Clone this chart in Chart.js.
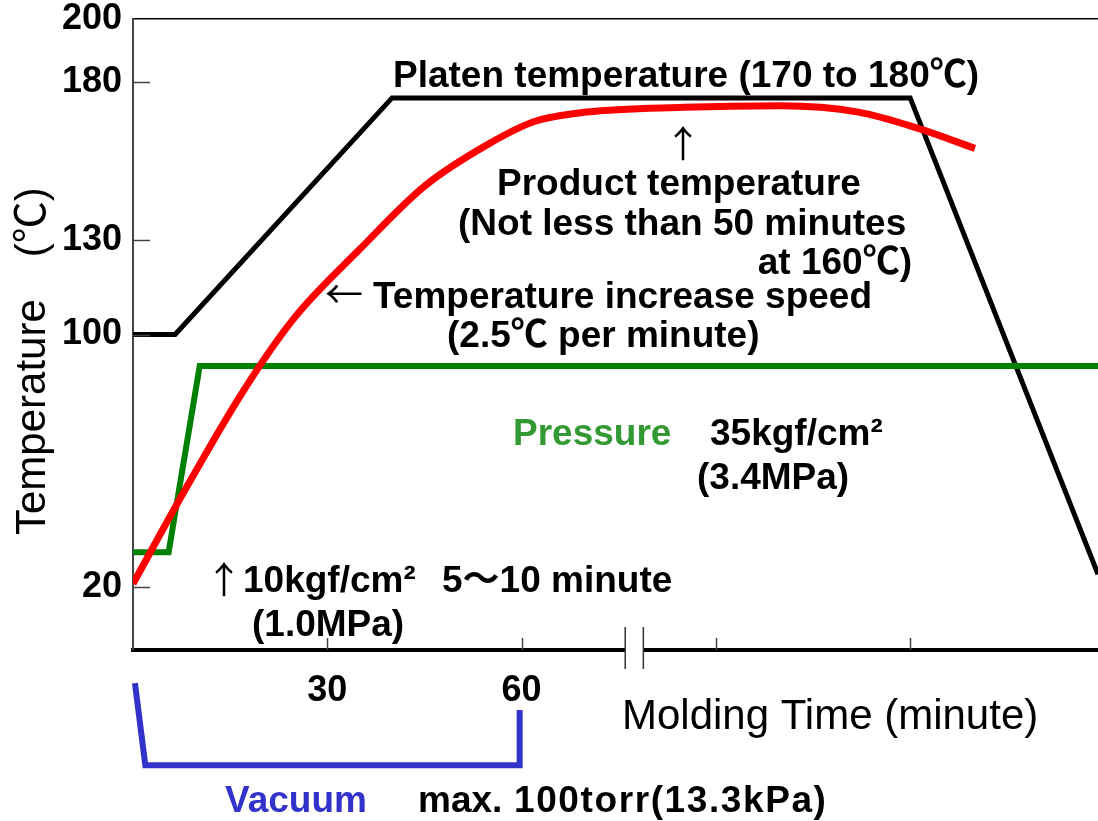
<!DOCTYPE html>
<html><head><meta charset="utf-8">
<script src="https://cdn.jsdelivr.net/npm/chart.js@4.4.1/dist/chart.umd.min.js"></script>
<style>html,body{margin:0;padding:0;background:#fff;}#wrap{width:1098px;height:821px;position:relative;}canvas{display:block;}</style>
</head><body><div id="wrap"><canvas id="c" width="1098" height="821"></canvas></div>
<script>
// ---- data ----
const yTicks = [20, 100, 130, 180, 200];
const xTicks = [30, 60, 90, 120];
const xTickLabels = ['30', '60', '', ''];
const platenTime = [0, 6.5, 40, 120, 149];
const platenTemp = [100, 100, 175, 175, 24];
const productTime = [0, 7, 17, 25, 35, 45, 55, 62, 70, 85, 100, 112, 121, 130];
const productTemp = [21, 47, 82, 105.5, 127, 147, 160.5, 167.5, 170.5, 172, 172.5, 170.5, 165.5, 159];
const pressureTime = [0, 5.5, 10.3, 149];
const pressureLevel = [31, 31, 90, 90];
const vacuumTime = [0.3, 1.9, 59.7, 59.7];
const vacuumLevel = [-10.5, -36.5, -36.5, -19];
const axisBreak = [76, 78.8];

const FF = '"Liberation Sans", Arial, "Noto Sans CJK JP", sans-serif';
const CJK = '"Noto Sans CJK JP", "Liberation Sans", sans-serif';
const pts = (xs, ys) => xs.map((x, i) => ({x: x, y: ys[i]}));

const annotate = {
  id: 'annotate',
  afterDraw(chart) {
    const ctx = chart.ctx, xs = chart.scales.x, ys = chart.scales.y, a = chart.chartArea;
    ctx.save();
    // inner tick marks
    ctx.strokeStyle = '#444'; ctx.lineWidth = 1.5;
    yTicks.forEach(v => { if (v === 200) return; const p = Math.round(ys.getPixelForValue(v)) + 0.5;
      ctx.beginPath(); ctx.moveTo(a.left, p); ctx.lineTo(a.left + 17, p); ctx.stroke(); });
    xTicks.forEach(v => { const p = Math.round(xs.getPixelForValue(v)) + 0.5;
      ctx.beginPath(); ctx.moveTo(p, a.bottom); ctx.lineTo(p, a.bottom - 12); ctx.stroke(); });
    // axis break
    const b0 = xs.getPixelForValue(axisBreak[0]), b1 = xs.getPixelForValue(axisBreak[1]);
    ctx.fillStyle = '#fff'; ctx.fillRect(b0, a.bottom - 4, b1 - b0, 8);
    ctx.strokeStyle = '#333'; ctx.lineWidth = 1.5;
    [b0, b1].forEach(p => { ctx.beginPath(); ctx.moveTo(p, a.bottom - 23); ctx.lineTo(p, a.bottom + 19); ctx.stroke(); });

    const txt = (s, x, y, opt) => {
      opt = opt || {};
      ctx.font = (opt.weight || 'bold') + ' ' + (opt.size || 37) + 'px ' + (opt.family || FF);
      ctx.fillStyle = opt.color || '#000';
      ctx.textAlign = opt.align || 'left';
      ctx.textBaseline = opt.base || 'alphabetic';
      ctx.letterSpacing = opt.ls || '0px';
      ctx.fillText(s, x, y);
      ctx.letterSpacing = '0px';
    };
    txt('Platen temperature (170 to 180℃)', 393, 87);
    txt('↑', 683, 144, {family: CJK, weight: 'normal', align: 'center', base: 'middle'});
    txt('Product temperature', 497, 195);
    txt('(Not less than 50 minutes', 458, 235);
    txt('at 160℃)', 912, 274, {align: 'right'});
    txt('←', 344, 294, {family: CJK, weight: 'normal', align: 'center', base: 'middle', size: 38});
    txt('Temperature increase speed', 373, 308);
    txt('(2.5℃ per minute)', 447, 347);
    txt('Pressure', 513, 445, {color: '#339933'});
    txt('35kgf/cm²', 710, 445);
    txt('(3.4MPa)', 697, 489);
    txt('↑', 224, 580, {family: CJK, weight: 'normal', align: 'center', base: 'middle'});
    txt('10kgf/cm²', 243, 592);
    txt('5〜10 minute', 442, 592);
    txt('(1.0MPa)', 252, 636);
    txt('Molding Time (minute)', 622, 729, {weight: 'normal', size: 42});
    txt('Vacuum', 225, 812, {color: '#3333cc'});
    txt('max.', 418, 812);
    txt('100torr(13.3kPa)', 514, 812, {ls: '1.6px'});
    // y title
    ctx.save();
    ctx.translate(45, 535); ctx.rotate(-Math.PI / 2);
    txt('Temperature\u3000(℃)', 0, 0, {weight: 'normal', size: 42});
    ctx.restore();
    ctx.restore();
  }
};

new Chart(document.getElementById('c'), {
  type: 'line',
  data: {
    datasets: [
      {label: 'Product temperature', data: pts(productTime, productTemp), borderColor: '#ff0000', borderWidth: 7,
       cubicInterpolationMode: 'monotone', pointRadius: 0, borderCapStyle: 'butt'},
      {label: 'Pressure', data: pts(pressureTime, pressureLevel), borderColor: '#008000', borderWidth: 6,
       tension: 0, pointRadius: 0, borderJoinStyle: 'miter'},
      {label: 'Platen temperature', data: pts(platenTime, platenTemp), borderColor: '#000000', borderWidth: 5,
       tension: 0, pointRadius: 0, borderJoinStyle: 'miter'},
      {label: 'Vacuum', data: pts(vacuumTime, vacuumLevel), borderColor: '#3333cc', borderWidth: 6,
       tension: 0, pointRadius: 0, borderJoinStyle: 'miter', clip: false}
    ]
  },
  options: {
    responsive: false, animation: false, devicePixelRatio: 1,
    layout: {padding: {top: 19, left: 0, right: 0, bottom: 0}},
    plugins: {legend: {display: false}, tooltip: {enabled: false}},
    scales: {
      x: {type: 'linear', min: 0, max: 149,
          afterBuildTicks: s => { s.ticks = xTicks.map(v => ({value: v})); },
          afterFit: s => { s.height = 171; s.paddingLeft = 0; s.paddingRight = 0; },
          ticks: {callback: v => xTickLabels[xTicks.indexOf(v)], autoSkip: false, maxRotation: 0,
                  font: {family: FF, size: 36, weight: 'bold'}, color: '#000', padding: 11},
          grid: {display: false},
          border: {display: true, color: '#000', width: 4}},
      y: {type: 'linear', min: 0, max: 200,
          afterBuildTicks: s => { s.ticks = yTicks.map(v => ({value: v})); },
          afterFit: s => { s.width = 133; s.paddingTop = 0; s.paddingBottom = 0; },
          ticks: {font: {family: FF, size: 36, weight: 'bold', lineHeight: 1}, color: '#000', padding: 11},
          grid: {drawTicks: false, lineWidth: 1.5, color: c => (c.tick && c.tick.value === 200) ? '#000' : 'rgba(0,0,0,0)'},
          border: {display: true, color: '#444', width: 2}}
    }
  },
  plugins: [annotate]
});
</script></body></html>
